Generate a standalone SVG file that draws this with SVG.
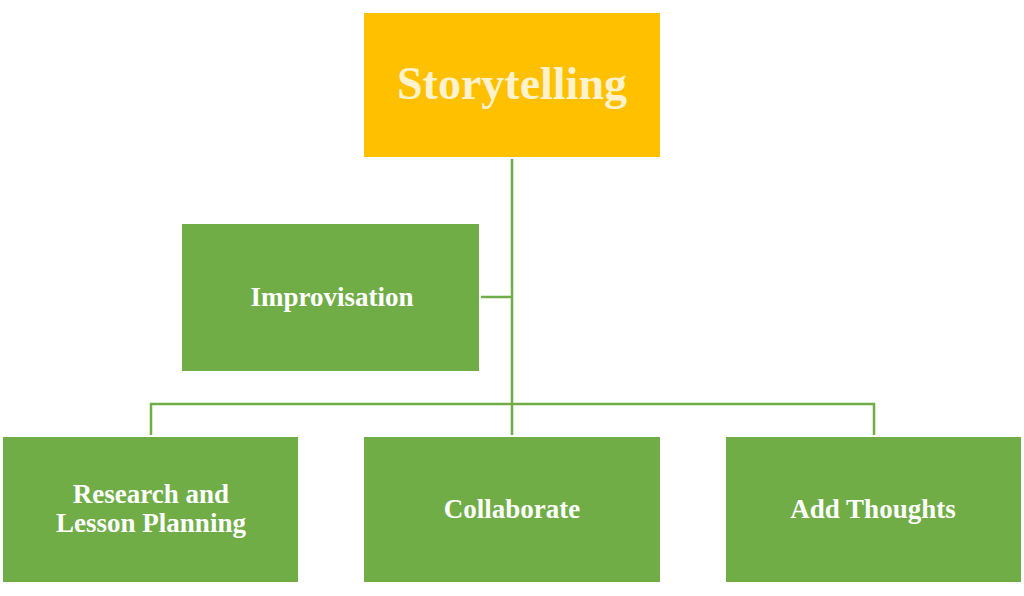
<svg xmlns="http://www.w3.org/2000/svg" width="1024" height="596" viewBox="0 0 1024 596">
<style>
.g{fill:#70AD47;stroke:#fff;stroke-width:2}
.t{font-family:"Liberation Serif","DejaVu Serif",serif;font-weight:bold;fill:#fff;font-size:27px;text-anchor:middle}
.c{stroke:#70AD47;stroke-width:2.5;fill:none}
</style>
<rect width="1024" height="596" fill="#fff"/>
<g id="connectors">
<path class="c" d="M512 158V436M481 297H512M151 436V404H874V436"/>
</g>
<g id="storytelling">
<rect x="363" y="12" width="298" height="146" fill="#FFC000" stroke="#fff" stroke-width="2"/>
<text x="512" y="99" class="t" style="font-size:46px;fill:#FFF2CC">Storytelling</text>
</g>
<g id="improvisation">
<rect class="g" x="181" y="223" width="299" height="149"/>
<text x="332" y="306" class="t">Improvisation</text>
</g>
<g id="research">
<rect class="g" x="2" y="436" width="297" height="147"/>
<text x="151" y="503" class="t">Research and</text>
<text x="151" y="532" class="t">Lesson Planning</text>
</g>
<g id="collaborate">
<rect class="g" x="363" y="436" width="298" height="147"/>
<text x="512" y="518" class="t">Collaborate</text>
</g>
<g id="addthoughts">
<rect class="g" x="725" y="436" width="297" height="147"/>
<text x="873" y="518" class="t">Add Thoughts</text>
</g>
</svg>
